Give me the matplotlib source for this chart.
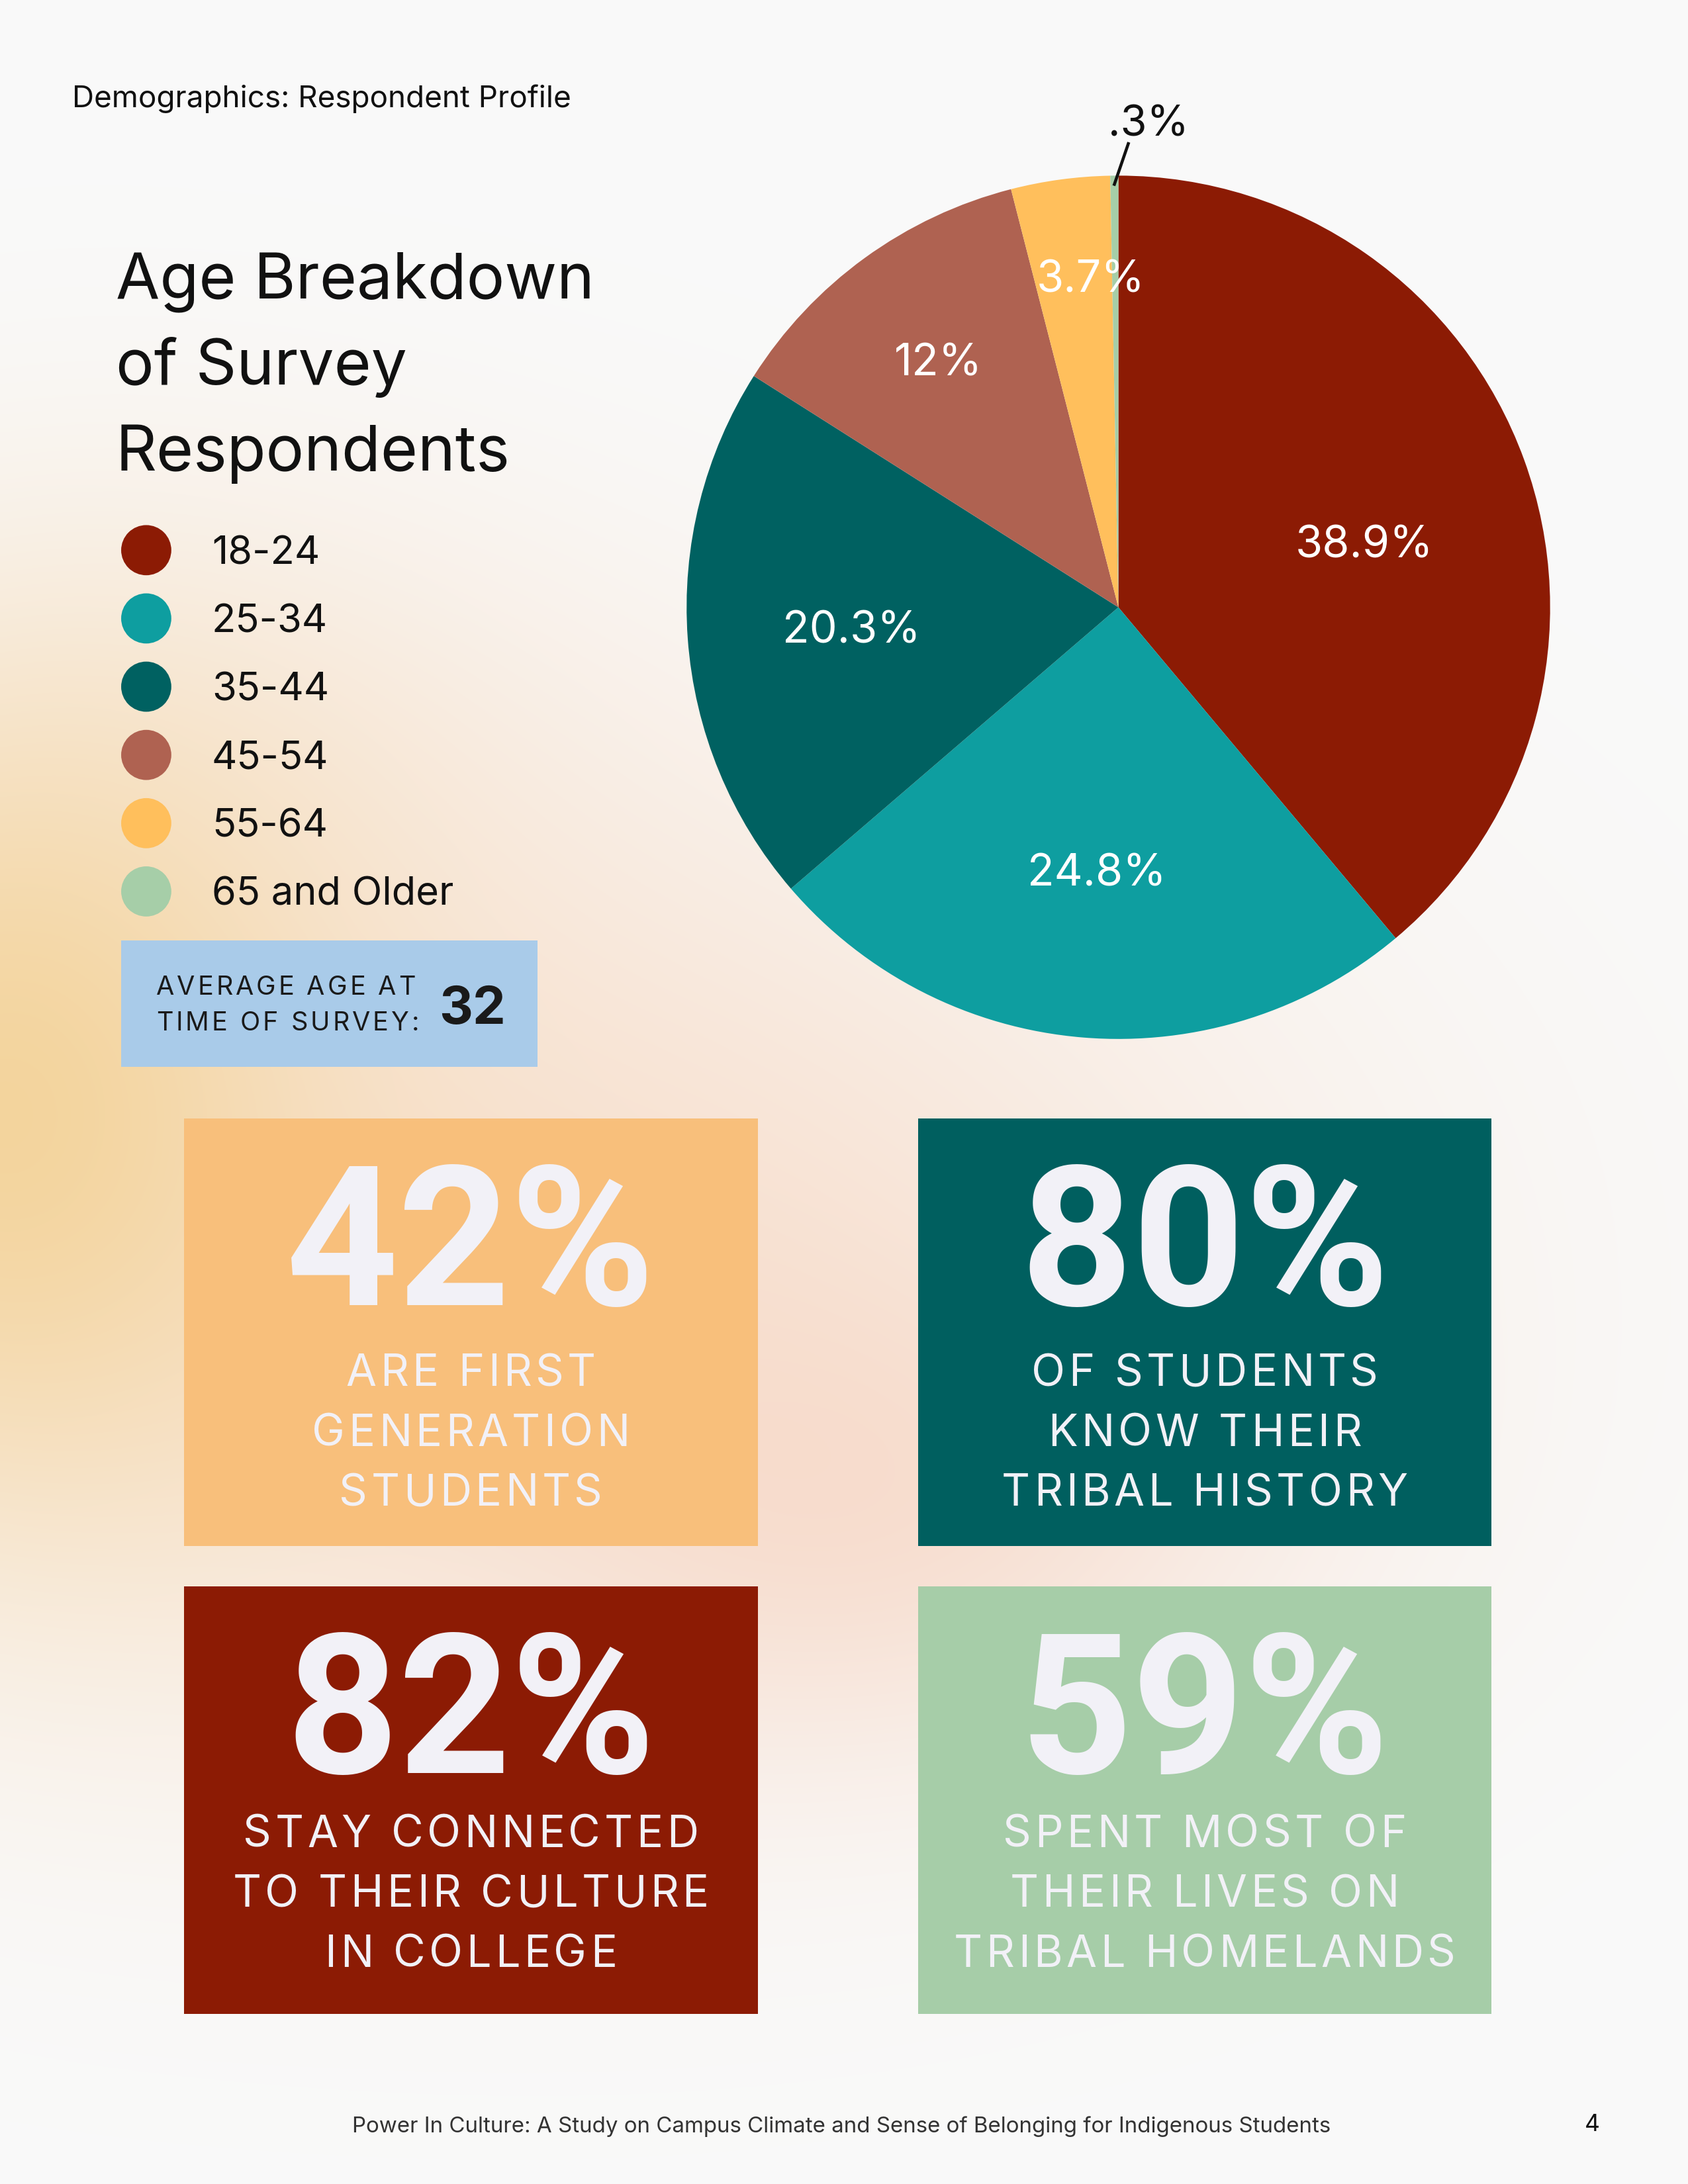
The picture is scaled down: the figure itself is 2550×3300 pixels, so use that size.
import numpy as np
import matplotlib
matplotlib.use("Agg")
import matplotlib.pyplot as plt
from matplotlib.patches import Rectangle, Circle
from matplotlib.font_manager import FontProperties

plt.rcParams['font.family'] = ['Inter', 'DejaVu Sans']

# DATA
age_groups = ["18-24", "25-34", "35-44", "45-54", "55-64", "65 and Older"]
age_shares = [38.9, 24.8, 20.3, 12.0, 3.7, 0.3]
age_labels = ["38.9%", "24.8%", "20.3%", "12%", "3.7%", ".3%"]
average_age = 32

stat_values = ["42%", "80%", "82%", "59%"]
stat_captions = [
    ["ARE FIRST", "GENERATION", "STUDENTS"],
    ["OF STUDENTS", "KNOW THEIR", "TRIBAL HISTORY"],
    ["STAY CONNECTED", "TO THEIR CULTURE", "IN COLLEGE"],
    ["SPENT MOST OF", "THEIR LIVES ON", "TRIBAL HOMELANDS"],
]

# STYLE
slice_colors = ["#8C1B04", "#0E9EA0", "#006161", "#AF6251", "#FFBF5C", "#A6CEA8"]
box_colors = ["#F8BF7B", "#005F5F", "#8C1B04", "#A6CDA8"]
label_dist = [0.59, 0.61, 0.62, 0.71, 0.77]
label_shift = [-5, 0, 0, 0, -3]     # degrees
TXT_LIGHT = "#F2F1F7"

W, H = 1212, 1568   # layout units (reference preview pixels)
S = 2550 / W

fig = plt.figure(figsize=(8.5, 11), dpi=300)
fig.patch.set_facecolor("#FAFAFA")

# soft background glow
bg = fig.add_axes([0, 0, 1, 1], zorder=0)
gx, gy = np.meshgrid(np.linspace(0, W, 400), np.linspace(0, H, 520))
img = np.ones((520, 400, 3)) * np.array([250, 250, 250]) / 255
blobs = [
    # cx, cy, sx, sy, alpha, colour
    (380, 900, 540, 340, 0.65, (247, 214, 190)),
    (620, 1080, 280, 170, 0.45, (245, 203, 182)),
    (150, 560, 320, 220, 0.40, (247, 222, 200)),
    (0, 800, 240, 290, 0.90, (243, 210, 150)),
]
for cx, cy, sx, sy, a, col in blobs:
    w = a * np.exp(-(((gx - cx) / sx) ** 2 + ((gy - cy) / sy) ** 2))
    img = img * (1 - w[..., None]) + (np.array(col) / 255) * w[..., None]
bg.imshow(img, extent=[0, W, H, 0], aspect="auto", interpolation="bicubic")
bg.set_xlim(0, W)
bg.set_ylim(H, 0)
bg.axis("off")

# pie
cx, cy, R = 803, 436, 310
pax = fig.add_axes([(cx - R) / W, 1 - (cy + R) / H, 2 * R / W, 2 * R / H], zorder=1)
wedges, _ = pax.pie(age_shares, colors=slice_colors, startangle=90, counterclock=False,
                    radius=1, wedgeprops=dict(linewidth=0))
pax.set_xlim(-1, 1)
pax.set_ylim(-1, 1)
pax.set_aspect("equal")
pax.axis("off")
for wdg, lab, d, sh in zip(wedges[:-1], age_labels[:-1], label_dist, label_shift):
    ang = np.deg2rad((wdg.theta1 + wdg.theta2) / 2 + sh)
    pax.text(d * np.cos(ang), d * np.sin(ang), lab, color="white", fontsize=16,
             ha="center", va="center_baseline")

# tiny slice: leader line + outside label
last = wedges[-1]
ang = np.deg2rad((last.theta1 + last.theta2) / 2)
pax.plot([0.98 * np.cos(ang), 0.023], [0.98 * np.sin(ang), 1.074], color="#111111",
         lw=1.1, clip_on=False)
pax.text(0.069, 1.092, age_labels[-1], fontsize=15.5, color="#111111",
         ha="center", va="baseline", clip_on=False)

# overlay for text & boxes
ax = fig.add_axes([0, 0, 1, 1], zorder=2)
ax.set_xlim(0, W)
ax.set_ylim(H, 0)
ax.patch.set_alpha(0)
ax.axis("off")

renderer = fig.canvas.get_renderer()


def text_w(s, fp):
    t = fig.text(0, 0, s, fontproperties=fp)
    w = t.get_window_extent(renderer).width
    t.remove()
    return w / S


def tracked(x, y, s, fp, color, track, ha="center"):
    # draw text with letter spacing (track in layout units)
    ref = text_w("H", fp)
    offs = [0] + [text_w(s[:i] + "H", fp) - ref for i in range(1, len(s))]
    total = text_w(s, fp) + track * (len(s) - 1)
    x0 = x - total / 2 if ha == "center" else x
    for i, ch in enumerate(s):
        if ch != " ":
            ax.text(x0 + offs[i] + i * track, y, ch, fontproperties=fp, color=color,
                    ha="left", va="baseline")


ax.text(52, 77, "Demographics: Respondent Profile", fontsize=11, color="#111111",
        ha="left", va="baseline")

for i, line in enumerate(["Age Breakdown", "of Survey", "Respondents"]):
    ax.text(83, 214 + i * 62, line, fontsize=23.1, color="#111111", ha="left", va="baseline")

for i, (grp, col) in enumerate(zip(age_groups, slice_colors)):
    yy = 395 + i * 49
    ax.add_patch(Circle((105, yy), 18, color=col, lw=0))
    ax.text(152, yy + 10, grp, fontsize=14.3, color="#111111", ha="left", va="baseline")

ax.add_patch(Rectangle((87, 675), 299, 91, color="#A9CBE9", lw=0))
fp_small = FontProperties(family="Inter", size=9.5)
tracked(112, 714, "AVERAGE AGE AT", fp_small, "#1A1A1A", 1.9, ha="left")
tracked(112, 740, "TIME OF SURVEY:", fp_small, "#1A1A1A", 1.9, ha="left")
ax.text(315, 735, str(average_age), fontsize=19, fontweight="bold", color="#1A1A1A",
        ha="left", va="baseline")

box_pos = [(132, 803), (659, 803), (132, 1139), (659, 1139)]
cap_off = [192, 192, 187, 187]
fp_big = FontProperties(family="Roboto", size=71, weight="bold")
fp_cap = FontProperties(family="Inter", size=16)
for (bx, by), col, val, caps, co in zip(box_pos, box_colors, stat_values, stat_captions, cap_off):
    ax.add_patch(Rectangle((bx, by), 412, 307, color=col, lw=0))
    ax.text(bx + 206, by + 134, val, fontproperties=fp_big, color=TXT_LIGHT,
            ha="center", va="baseline")
    for j, c in enumerate(caps):
        tracked(bx + 206, by + co + j * 43, c, fp_cap, TXT_LIGHT, 2.6)

ax.text(604, 1531, "Power In Culture: A Study on Campus Climate and Sense of Belonging for Indigenous Students",
        fontsize=7.95, color="#333333", ha="center", va="baseline")
ax.text(1143, 1530, "4", fontsize=8.5, color="#111111", ha="center", va="baseline")

fig.savefig("out.png", dpi=300, facecolor=fig.get_facecolor())
